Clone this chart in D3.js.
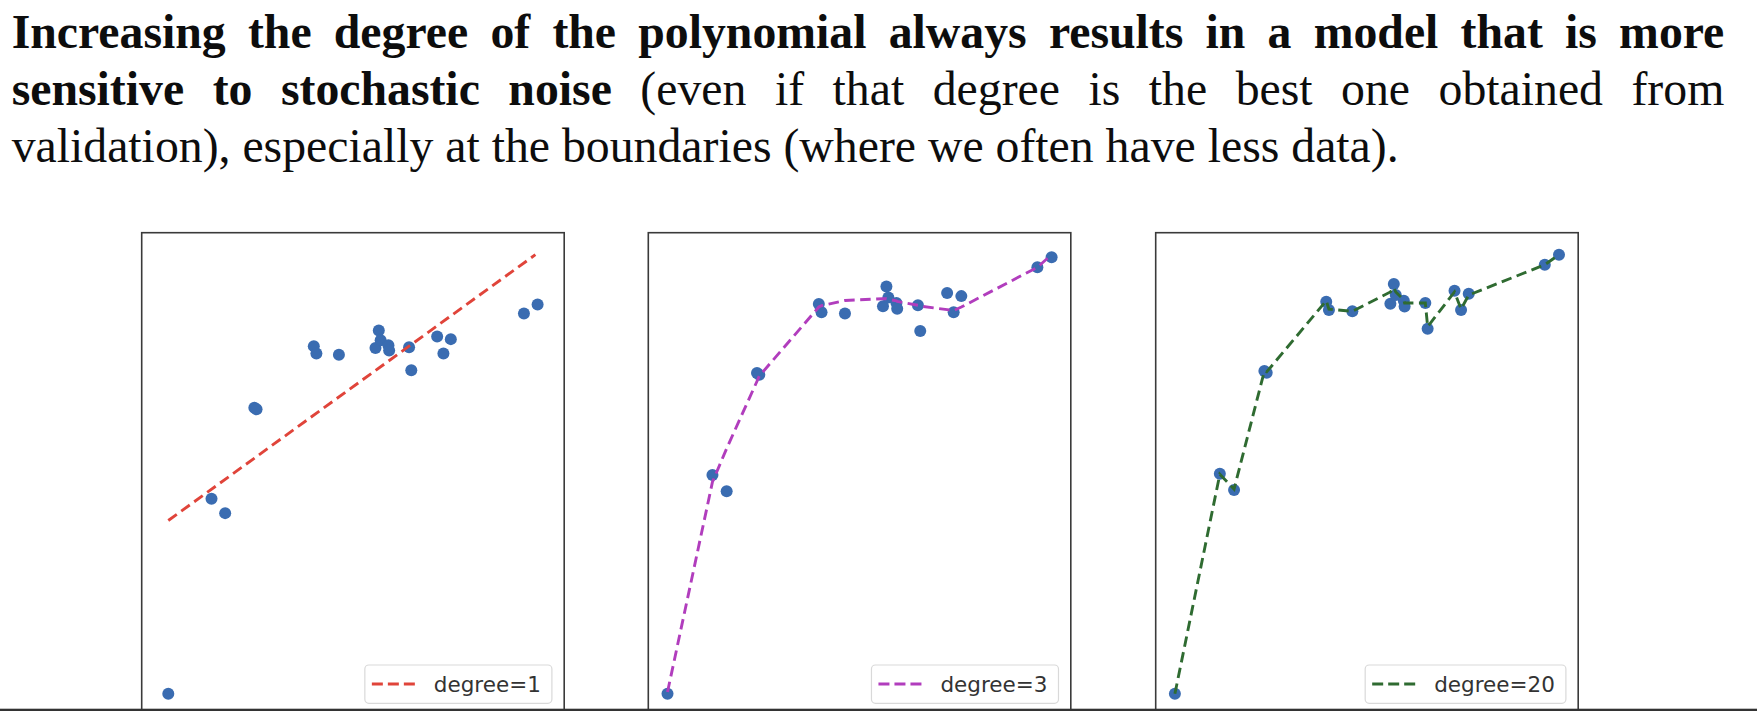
<!DOCTYPE html>
<html><head><meta charset="utf-8">
<script src="https://cdn.jsdelivr.net/npm/d3@7"></script>
<style>html,body{margin:0;padding:0;background:#fff;overflow:hidden}</style>
</head><body>
<svg id="c" width="1757" height="711"></svg>
<script>
// ---------- DATA ----------
const titleLine1 = [{t: "Increasing the degree of the polynomial always results in a model that is more", b: true}];
const titleLine2 = [{t: "sensitive to stochastic noise", b: true}, {t: "(even if that degree is the best one obtained from", b: false}];
const titleLine3 = [{t: "validation), especially at the boundaries (where we often have less data).", b: false}];

// scatter data (normalised units)
const xValues = [0.000, 0.117, 0.154, 0.233, 0.239, 0.394, 0.401, 0.462, 0.561, 0.570, 0.575, 0.596, 0.598, 0.652, 0.658, 0.728, 0.745, 0.765, 0.963, 1.000];
const yValues = [0.000, 0.501, 0.464, 0.735, 0.731, 0.893, 0.874, 0.871, 0.888, 0.933, 0.908, 0.895, 0.882, 0.890, 0.831, 0.918, 0.874, 0.911, 0.977, 1.000];

// fitted models
const fit1X = [0.000, 0.994];
const fit1Y = [0.445, 1.128];
const fit3Y = [0.004, 0.485, 0.562, 0.716, 0.728, 0.886, 0.889, 0.901, 0.905, 0.905, 0.904, 0.900, 0.899, 0.890, 0.888, 0.880, 0.878, 0.886, 0.977, 1.006];
const fit20Y = [0.000, 0.500, 0.466, 0.735, 0.733, 0.895, 0.876, 0.871, 0.915, 0.925, 0.915, 0.897, 0.890, 0.890, 0.836, 0.915, 0.876, 0.908, 0.977, 1.000];

const legendLabels = ["degree=1", "degree=3", "degree=20"];

// ---------- STYLE / LAYOUT ----------
const lineColors = ["#e0443a", "#b13dbd", "#2f6b31"];
const dotColor = "#3a6cb1";
const panelLeft = [141.7, 648.3, 1155.7];
const panelTop = 232.7, panelW = 422.5, panelH = 483;
const xPad = [0.072, 0.05, 0.05];

const svg = d3.select("#c");
const serif = "'Liberation Serif','Times New Roman',serif";

// ---------- TITLE ----------
const meas = svg.append("text").attr("font-family", serif).attr("visibility", "hidden");
function tw(s, bold, size) {
  meas.attr("font-size", size).attr("font-weight", bold ? "bold" : "normal").text(s);
  return meas.node().getComputedTextLength();
}
const leftX = 11.7, rightX = 1724.3, line3Target = 1387;
const fs = 100 * line3Target / tw(titleLine3[0].t, false, 100);

function words(line) {
  const out = [];
  line.forEach(seg => seg.t.split(" ").forEach(w => out.push({w, b: seg.b})));
  return out;
}
function drawLine(line, baseline, justify) {
  const ws = words(line);
  ws.forEach(d => d.width = tw(d.w, d.b, fs));
  const space = tw("a b", false, fs) - tw("ab", false, fs);
  const sum = d3.sum(ws, d => d.width);
  const gap = justify ? (rightX - leftX - sum) / (ws.length - 1) : space;
  let x = leftX;
  const t = svg.append("text").attr("font-family", serif).attr("font-size", fs)
    .attr("fill", "#0d0d0d").attr("y", baseline);
  ws.forEach(d => {
    t.append("tspan").attr("x", x).attr("font-weight", d.b ? "bold" : "normal").text(d.w);
    x += d.width + gap;
  });
}
drawLine(titleLine1, 48.3, true);
drawLine(titleLine2, 105, true);
drawLine(titleLine3, 161.5, false);
meas.remove();

// ---------- PANELS ----------
const fits = [
  fit1X.map((x, i) => ({x, y: fit1Y[i]})),
  xValues.map((x, i) => ({x, y: fit3Y[i]})),
  xValues.map((x, i) => ({x, y: fit20Y[i]}))
];
const pts = xValues.map((x, i) => ({x, y: yValues[i]}));

fits.forEach((fit, p) => {
  const L = panelLeft[p];
  const all = pts.concat(fit);
  const xe = d3.extent(pts, d => d.x), ye = d3.extent(all, d => d.y);
  const xs = xe[1] - xe[0], ys = ye[1] - ye[0];
  const x = d3.scaleLinear().domain([xe[0] - xPad[p] * xs, xe[1] + xPad[p] * xs]).range([L, L + panelW]);
  const y = d3.scaleLinear().domain([ye[0] - 0.05 * ys, ye[1] + 0.05 * ys]).range([panelTop + panelH, panelTop]);
  const g = svg.append("g");
  g.append("rect").attr("x", L).attr("y", panelTop).attr("width", panelW).attr("height", panelH)
    .attr("fill", "#fff");
  g.selectAll("circle").data(pts).join("circle")
    .attr("cx", d => x(d.x)).attr("cy", d => y(d.y)).attr("r", 6).attr("fill", dotColor);
  g.append("path").datum(fit)
    .attr("d", d3.line().x(d => x(d.x)).y(d => y(d.y)))
    .attr("fill", "none").attr("stroke", lineColors[p]).attr("stroke-width", 2.9)
    .attr("stroke-dasharray", "10.5,5.5");
  g.append("rect").attr("x", L).attr("y", panelTop).attr("width", panelW).attr("height", panelH)
    .attr("fill", "none").attr("stroke", "#3a3a3a").attr("stroke-width", 1.6);

  // legend
  const lg = g.append("g");
  const boxR = L + panelW - 12.3;
  const txt = lg.append("text").attr("font-family", "'DejaVu Sans',sans-serif").attr("font-size", 21.5)
    .attr("fill", "#333").attr("text-anchor", "end").attr("x", boxR - 11).attr("y", 691.5)
    .text(legendLabels[p]);
  const tW = txt.node().getComputedTextLength();
  const lineEnd = boxR - 11 - tW - 19, lineStart = lineEnd - 43;
  const boxL = lineStart - 7;
  lg.insert("rect", "text").attr("x", boxL).attr("y", 665).attr("width", boxR - boxL).attr("height", 38.3)
    .attr("rx", 4).attr("fill", "#fff").attr("fill-opacity", 0.85).attr("stroke", "#d9d9d9").attr("stroke-width", 1.2);
  lg.append("line").attr("x1", lineStart).attr("x2", lineEnd).attr("y1", 684).attr("y2", 684)
    .attr("stroke", lineColors[p]).attr("stroke-width", 2.9).attr("stroke-dasharray", "11,5");
});

// bottom screen edge
svg.append("rect").attr("x", 0).attr("y", 708.7).attr("width", 1757).attr("height", 2.5).attr("fill", "#333");
</script>
</body></html>
